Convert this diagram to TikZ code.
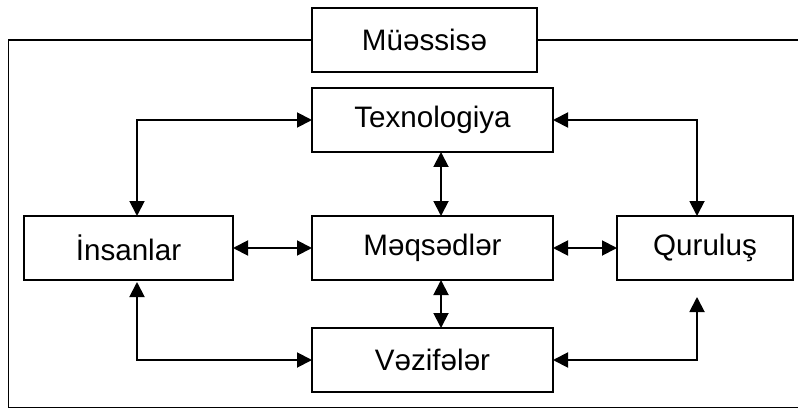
\documentclass[tikz,border=0pt]{standalone}
\usepackage{fontspec}
\setmainfont{Liberation Sans}
\usetikzlibrary{arrows.meta}
\begin{document}
\begin{tikzpicture}[x=1pt,y=-1pt,
  box/.style={draw,line width=1.9pt,minimum height=64pt,inner sep=0pt,outer sep=0pt,
    font=\fontsize{29.6}{35}\selectfont},
  link/.style={line width=1.9pt,{Triangle[length=15pt,width=15pt]}-{Triangle[length=15pt,width=15pt]}},
  frame/.style={line width=1.9pt}]
\useasboundingbox (0,0) rectangle (798,409);
\node[box,minimum width=225pt] (mu) at (424.5,40) {Müəssisə};
\node[box,minimum width=241pt] (t) at (432.5,120) {Texnologiya};
\node[box,minimum width=241pt] (m) at (432.5,248) {Məqsədlər};
\node[box,minimum width=241pt] (v) at (432.5,360) {Vəzifələr};
\node[box,minimum width=209pt] (i) at (128.5,248) {İnsanlar};
\node[box,minimum width=176pt] (q) at (705,248) {Quruluş};
% outer frame
\coordinate (ftl) at (8.5,40);
\coordinate (fbl) at (8.5,407.5);
\coordinate (fbr) at (812,407.5);
\coordinate (ftr) at (812,40);
\draw[frame] (mu.west) -- (ftl) -- (fbl) -- (fbr) -- (ftr) -- (mu.east);
% connectors
\coordinate (c1) at (137,120);
\coordinate (c2) at (697,120);
\coordinate (c3) at (137,360);
\coordinate (c4) at (697,360);
\coordinate (qb) at (697,297);
\coordinate (vx) at (441,0);
\draw[link] (t.west) -- (c1) -- (c1 |- i.north);
\draw[link] (t.east) -- (c2) -- (c2 |- q.north);
\draw[link] (vx |- t.south) -- (vx |- m.north);
\draw[link] (vx |- m.south) -- (vx |- v.north);
\draw[link] (i.east) -- (m.west);
\draw[link] (m.east) -- (q.west);
\draw[link,shorten <=2pt] (c1 |- i.south) -- (c3) -- (v.west);
\draw[link] (v.east) -- (c4) -- (qb);
\end{tikzpicture}
\end{document}
